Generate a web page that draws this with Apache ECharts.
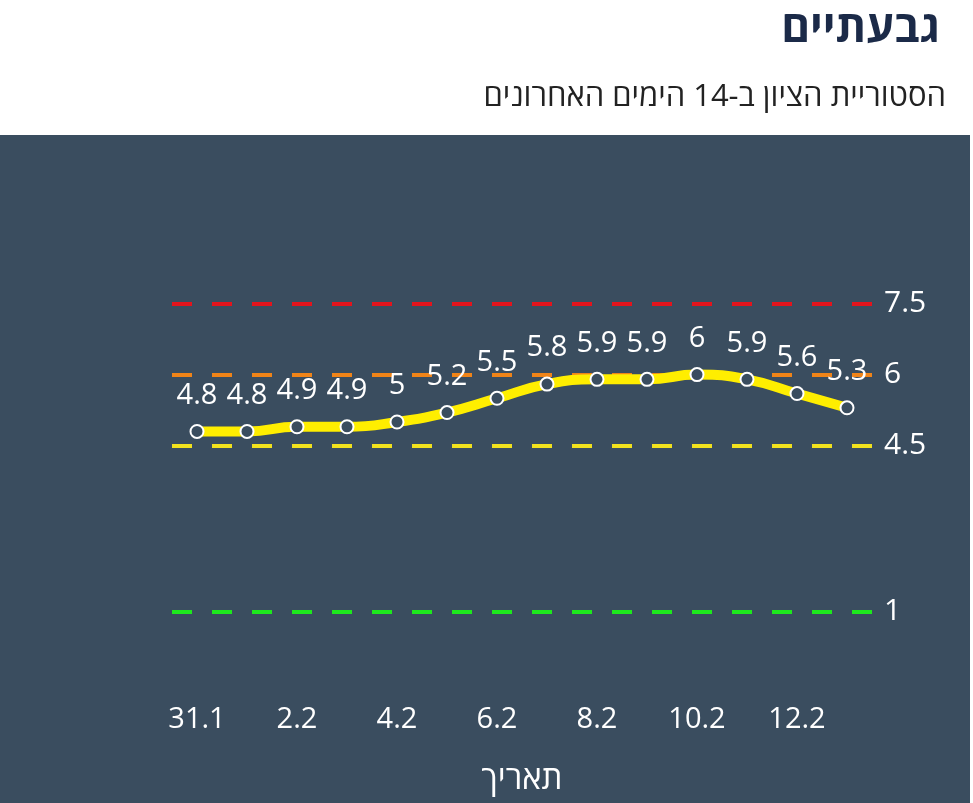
<!DOCTYPE html>
<html><head><meta charset="utf-8">
<script src="https://cdn.jsdelivr.net/npm/echarts@6/dist/echarts.min.js"></script>
<style>html,body{margin:0;padding:0;background:#fff}#c{width:973px;height:803px}</style>
</head><body><div id="c"></div>
<script>
const titleText = 'גבעתיים';
const subtitleText = 'הסטוריית הציון ב-14 הימים האחרונים';
const axisName = 'תאריך';
const categories = ['31.1','1.2','2.2','3.2','4.2','5.2','6.2','7.2','8.2','9.2','10.2','11.2','12.2','13.2'];
const scores = [4.8,4.8,4.9,4.9,5,5.2,5.5,5.8,5.9,5.9,6,5.9,5.6,5.3];
const thresholdValues = [7.5, 6, 4.5, 1];
const thresholdColors = ['#e3141c','#f08418','#f2e21e','#1ee81e'];

const font = '"Open Sans", "Noto Sans", "DejaVu Sans", sans-serif';
const chart = echarts.init(document.getElementById('c'), null, {renderer:'canvas'});
chart.setOption({
  backgroundColor:'#ffffff',
  animation:false,
  graphic:[{type:'rect', shape:{x:0,y:135,width:970,height:668}, style:{fill:'#3a4d5f'}, z:-10}],
  title:[
    {text:titleText, right:28, top:2, textStyle:{fontFamily:font, fontSize:44, fontWeight:'bold', color:'#1b2a48'}},
    {text:subtitleText, right:22, top:77, textStyle:{fontFamily:font, fontSize:31, fontWeight:'normal', color:'#222'}}
  ],
  grid:{left:172, right:101, top:185, bottom:144, outerBoundsMode:'none', containLabel:false},
  xAxis:{type:'category', data:categories, boundaryGap:true,
    axisLine:{show:false}, axisTick:{show:false},
    axisLabel:{interval:1, color:'#fff', fontSize:29, fontFamily:font, margin:46},
    name:axisName, nameLocation:'middle', nameGap:104,
    nameTextStyle:{color:'#fff', fontSize:33, fontFamily:font}},
  yAxis:{type:'value', min:0, max:10, show:false, splitLine:{show:false}},
  series:[{
    type:'line', data:scores, smooth:true,
    lineStyle:{color:'#ffee00', width:10},
    itemStyle:{color:'#3a4d5f', borderColor:'#fff', borderWidth:2},
    symbol:'circle', symbolSize:13,
    label:{show:true, position:'top', distance:14, color:'#fff', fontSize:29, fontFamily:font},
    markLine:{
      silent:true, symbol:'none',
      data: thresholdValues.map((v,i)=>({yAxis:v, lineStyle:{color:thresholdColors[i], type:[20,20], width:4}})),
      label:{show:true, position:'end', color:'#fff', fontSize:30, fontFamily:font, distance:12, formatter:'{c}'},
      z:1
    },
    z:3
  }]
});
</script></body></html>
